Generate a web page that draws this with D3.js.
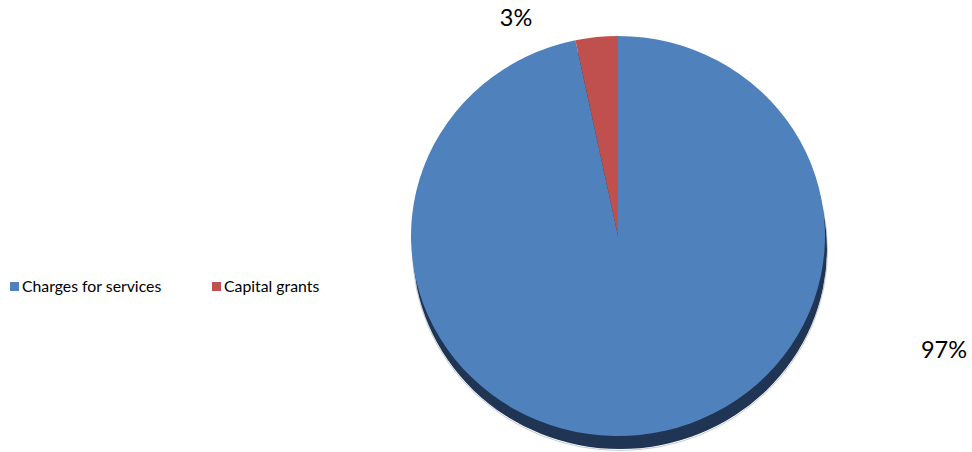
<!DOCTYPE html>
<html><head><meta charset="utf-8">
<script src="https://cdn.jsdelivr.net/npm/d3@7"></script>
<style>body{margin:0;background:#fff;}svg{display:block;font-family:Lato,"Open Sans",sans-serif;}</style>
</head><body>
<svg id="c" width="972" height="452"></svg>
<script>
const categories = ["Charges for services", "Capital grants"];
const values = [96.7, 3.3];
const colors = ["#4f81bd", "#c0504d"];
const labels = ["97%", "3%"];

const svg = d3.select("#c");
const cx = 618, cy = 236, rx = 207, ry = 200;
const data = categories.map((c, i) => ({c, v: values[i], col: colors[i], lab: labels[i]}));
const pie = d3.pie().sort(null).value(d => d.v);
const arcs = pie(data);
const arc = d3.arc().innerRadius(0).outerRadius(rx);

// shadow
svg.append("ellipse").attr("cx", cx + 2).attr("cy", cy + 13).attr("rx", rx).attr("ry", ry)
  .attr("fill", "#1f3553");
svg.append("ellipse").attr("cx", cx + 2).attr("cy", cy + 14).attr("rx", rx + 0.5).attr("ry", ry + 0.5)
  .attr("fill", "none").attr("stroke", "#8a96a8").attr("stroke-width", 1).attr("opacity", 0.5);

const g = svg.append("g").attr("transform", `translate(${cx},${cy}) scale(1,${ry / rx})`);
g.selectAll("path").data(arcs).join("path")
  .attr("d", arc).attr("fill", d => d.data.col);

// data labels
const labelPos = {"Capital grants": [516, 26], "Charges for services": [944, 358]};
svg.selectAll("text.lab").data(arcs).join("text").attr("class", "lab")
  .attr("x", d => labelPos[d.data.c][0]).attr("y", d => labelPos[d.data.c][1])
  .attr("text-anchor", "middle").attr("font-size", 23.5).attr("fill", "#000")
  .text(d => d.data.lab);

// legend
const legX = [10, 212];
const lg = svg.selectAll("g.leg").data(data).join("g").attr("class", "leg")
  .attr("transform", (d, i) => `translate(${legX[i]},282)`);
lg.append("rect").attr("width", 9).attr("height", 9).attr("fill", d => d.col);
lg.append("text").attr("x", 12).attr("y", 10).attr("font-size", 15.8).attr("fill", "#000").text(d => d.c);
</script>
</body></html>
